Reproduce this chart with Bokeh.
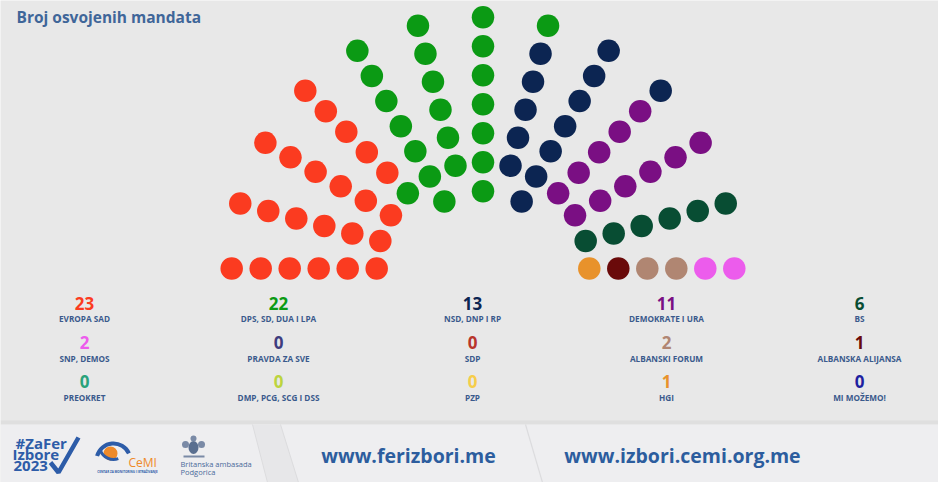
import math
from bokeh.plotting import figure
from bokeh.models import Range1d, ColumnDataSource
from bokeh.core.properties import value
from bokeh.embed import file_html
from bokeh.resources import INLINE

# ---------------- data ----------------
TITLE = "Broj osvojenih mandata"

parties = ["EVROPA SAD", "DPS, SD, DUA I LPA", "NSD, DNP I RP", "DEMOKRATE I URA", "BS",
           "SNP, DEMOS", "PRAVDA ZA SVE", "SDP", "ALBANSKI FORUM", "ALBANSKA ALIJANSA",
           "PREOKRET", "DMP, PCG, SCG I DSS", "PZP", "HGI", "MI MOŽEMO!"]
seats = [23, 22, 13, 11, 6,
         2, 0, 0, 2, 1,
         0, 0, 0, 1, 0]
colors = ["#fb3b20", "#0b9a14", "#0c2552", "#7a0f83", "#084d33",
          "#ec5cec", "#3e3c7e", "#b8352c", "#b08672", "#6a0a0a",
          "#2aa27a", "#bcd43e", "#f6cd4a", "#e8922b", "#1f1fa0"]

# order in which parties fill the hemicycle
seat_order = ["EVROPA SAD", "DPS, SD, DUA I LPA", "NSD, DNP I RP", "DEMOKRATE I URA", "BS",
              "SNP, DEMOS", "ALBANSKI FORUM", "ALBANSKA ALIJANSA", "HGI"]

urls = ["www.ferizbori.me", "www.izbori.cemi.org.me"]

# ---------------- layout constants ----------------
W, H = 938, 482
spoke_counts = [6, 6, 6, 6, 7, 6, 7, 6, 7, 6, 6, 6, 6]   # seats per spoke, left to right
CX, CY = 482.5, 268.0
R_OUT, STEP = 251.3, 29.0

p = figure(width=W, height=H, output_backend="svg", toolbar_location=None,
           x_range=Range1d(0, W), y_range=Range1d(H, 0),
           x_axis_type=None, y_axis_type=None, min_border=0,
           background_fill_color="#e8e8e8", border_fill_color="#e8e8e8",
           outline_line_color=None)
p.grid.visible = False

# ---------------- seats ----------------
seat_colors = []
for name in seat_order:
    i = parties.index(name)
    seat_colors += [colors[i]] * seats[i]

xs, ys = [], []
for s, n in enumerate(spoke_counts):
    th = math.radians(180 - 15 * s)
    for k in range(n):
        r = R_OUT - STEP * k
        xs.append(CX + r * math.cos(th))
        ys.append(CY - r * math.sin(th))

src = ColumnDataSource(dict(x=xs, y=ys, c=seat_colors))
p.scatter("x", "y", source=src, marker="circle", size=22.5, fill_color="c", line_color=None)

# ---------------- title ----------------
p.text(x=[16], y=[16], text=[TITLE], text_font=value("Open Sans"), text_font_style="bold",
       text_font_size="15.5px", text_color="#3f6699", text_baseline="middle", text_align="left")

# ---------------- legend grid ----------------
col_x = [84, 278, 472, 666, 859]
num_y = [303, 342, 381]
lab_y = [318, 358, 397]
lx, ly_n, ly_l = [], [], []
for idx in range(len(parties)):
    r, c = divmod(idx, 5)
    lx.append(col_x[c]); ly_n.append(num_y[r]); ly_l.append(lab_y[r])
p.text(x=lx, y=ly_n, text=[str(v) for v in seats], text_color=colors,
       text_font=value("Open Sans"), text_font_style="bold", text_font_size="17px",
       text_align="center", text_baseline="middle")
p.text(x=lx, y=ly_l, text=parties, text_color="#3a5a8c",
       text_font=value("Open Sans"), text_font_style="bold", text_font_size="8.2px",
       text_align="center", text_baseline="middle")

# ---------------- footer ----------------
p.quad(left=0, right=940, top=420, bottom=424, fill_color="#d8d8d8", line_color=None, fill_alpha=0.6)
p.quad(left=0, right=940, top=424, bottom=490, fill_color="#eeeef0", line_color=None)
p.patch(x=[252, 280, 298, 267], y=[424, 424, 482, 482], fill_color="#e7e7e9", line_color=None)
p.line(x=[252, 267], y=[424, 482], line_color="#dcdcde", line_width=1)
p.line(x=[280, 298], y=[424, 482], line_color="#dcdcde", line_width=1)
p.line(x=[525, 542], y=[424, 482], line_color="#dcdcde", line_width=1.2)

p.text(x=[408, 682], y=[455, 455], text=urls, text_color="#2c5d9e",
       text_font=value("Open Sans"), text_font_style="bold", text_font_size="19.5px",
       text_align="center", text_baseline="middle")

# #ZaFer Izbore 2023 logo
p.text(x=[15, 12, 13], y=[442, 453, 465], text=["#ZaFer", "Izbore", "2023"], text_color="#2d5ca8",
       text_font=value("Open Sans"), text_font_style="bold", text_font_size="15px",
       text_align="left", text_baseline="middle", text_line_height=1.0)
p.line(x=[50, 58, 78], y=[462, 472, 437], line_color="#2d5ca8", line_width=4.5)

# CeMI logo
p.arc(x=[113], y=[460], radius=17, start_angle=math.radians(25), end_angle=math.radians(165),
      line_color="#2d5ca8", line_width=4, direction="anticlock")
p.scatter(x=[110], y=[453], marker="circle", size=14, fill_color="#ee8a2a", line_color=None)
p.arc(x=[113], y=[445], radius=14, start_angle=math.radians(200), end_angle=math.radians(290),
      line_color="#2d5ca8", line_width=3, direction="anticlock")
p.text(x=[128], y=[462], text=["CeMI"], text_color="#ee8a2a", text_font=value("Open Sans"),
       text_font_size="12px", text_align="left", text_baseline="middle")
p.text(x=[127], y=[471], text=["CENTAR ZA MONITORING I ISTRAŽIVANJE"], text_color="#2d5ca8",
       text_font=value("Open Sans"), text_font_style="bold", text_font_size="3px",
       text_align="center", text_baseline="middle")

# British embassy crest + text
p.ellipse(x=[193], y=[447], width=[10], height=[13], fill_color="#5a6f90", line_color=None)
p.scatter(x=[185, 201, 193], y=[444, 444, 438], marker="circle", size=[7, 7, 6],
          fill_color="#7a8aa6", line_color=None)
p.quad(left=183, right=204, top=455, bottom=457, fill_color="#7a8aa6", line_color=None)
p.text(x=[180, 180], y=[463, 471], text=["Britanska ambasada", "Podgorica"], text_color="#4a6a9a",
       text_font=value("Open Sans"), text_font_size="7.5px", text_align="left", text_baseline="middle")

open("out.html", "w").write(file_html(p, INLINE))
